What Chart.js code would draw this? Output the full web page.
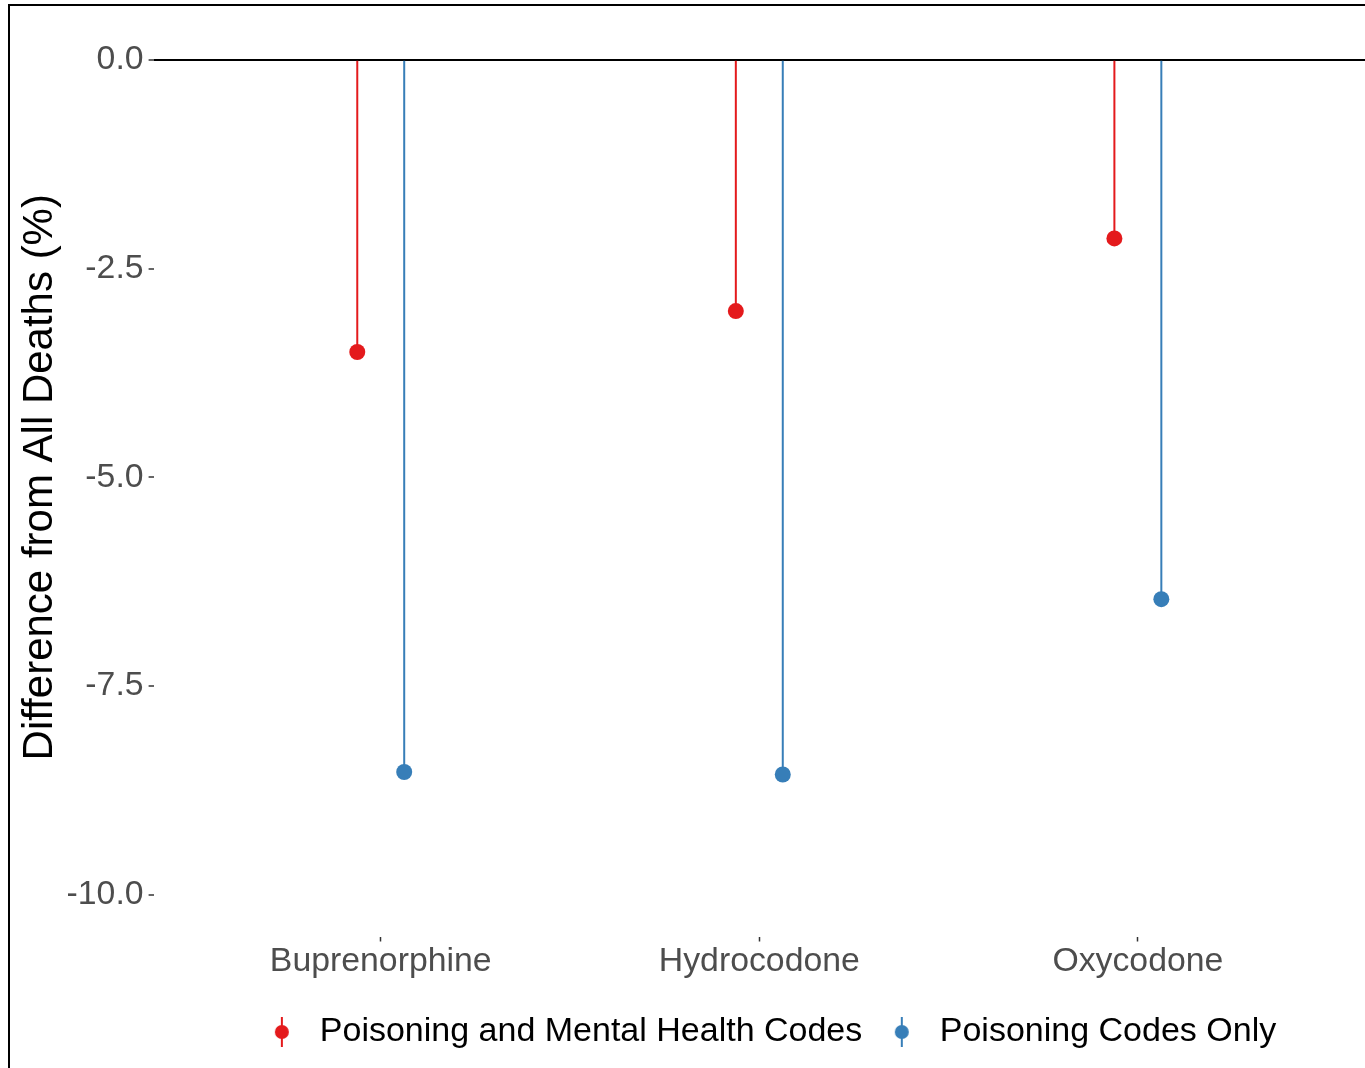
<!DOCTYPE html>
<html>
<head>
<meta charset="utf-8">
<script src="https://cdn.jsdelivr.net/npm/chart.js@4/dist/chart.umd.min.js"></script>
<style>
  html, body { margin: 0; padding: 0; background: #fff; }
  #wrap { position: relative; width: 1365px; height: 1068px; overflow: hidden; }
  #frame { position: absolute; left: 8px; top: 4px; width: 2000px; height: 2000px;
           border-top: 2px solid #000; border-left: 2px solid #000; pointer-events: none; }
  canvas { position: absolute; left: 0; top: 0; }
</style>
</head>
<body>
<div id="wrap">
  <canvas id="c" width="1365" height="1068"></canvas>
  <div id="frame"></div>
</div>
<script>
const categories = ['Buprenorphine', 'Hydrocodone', 'Oxycodone'];
const seriesNames = ['Poisoning and Mental Health Codes', 'Poisoning Codes Only'];
const mentalHealthValues = [-3.50, -3.01, -2.14];
const poisoningOnlyValues = [-8.53, -8.56, -6.46];
const yTickValues = [-10, -7.5, -5, -2.5, 0];
const yTickLabels = ['-10.0', '-7.5', '-5.0', '-2.5', '0.0'];

const RED = '#E41A1C';
const BLUE = '#377EB8';
const DODGE = 0.062;
const FONT = '"Liberation Sans", Arial, sans-serif';

function pts(values, shift) {
  return values.map((v, i) => ({ x: i + 1 + shift, y: v }));
}
function marker(color) {
  const c = document.createElement('canvas');
  c.width = 20; c.height = 30;
  const g = c.getContext('2d');
  g.fillStyle = color;
  g.fillRect(9, 0, 2, 30);
  g.beginPath(); g.arc(10, 15, 7, 0, Math.PI * 2); g.fill();
  return c;
}
const markers = [marker(RED), marker(BLUE)];

const legendShift = {
  id: 'legendShift',
  afterLayout(chart) {
    const dx = 86;
    chart.legend.left += dx;
    chart.legend.right += dx;
  }
};
function noPad(s) {
  s.paddingTop = 0; s.paddingBottom = 0; s.paddingLeft = 0; s.paddingRight = 0;
}

new Chart(document.getElementById('c'), {
  data: {
    datasets: [
      { type: 'scatter', label: seriesNames[0], data: pts(mentalHealthValues, -DODGE),
        backgroundColor: RED, borderColor: RED, pointRadius: 8, borderWidth: 0 },
      { type: 'scatter', label: seriesNames[1], data: pts(poisoningOnlyValues, DODGE),
        backgroundColor: BLUE, borderColor: BLUE, pointRadius: 8, borderWidth: 0 },
      { type: 'bar', label: seriesNames[0] + ' stem', data: pts(mentalHealthValues, -DODGE),
        backgroundColor: RED, grouped: false, maxBarThickness: 2 },
      { type: 'bar', label: seriesNames[1] + ' stem', data: pts(poisoningOnlyValues, DODGE),
        backgroundColor: BLUE, grouped: false, maxBarThickness: 2 }
    ]
  },
  options: {
    responsive: false,
    animation: false,
    devicePixelRatio: 1,
    layout: { autoPadding: false, padding: { top: 18, right: 0, bottom: 9, left: 0 } },
    plugins: {
      tooltip: { enabled: false },
      legend: {
        position: 'bottom',
        align: 'center',
        labels: {
          usePointStyle: true,
          pointStyleWidth: 42,
          padding: 18.5,
          color: '#000',
          font: { family: FONT, size: 34 },
          generateLabels: () => seriesNames.map((n, i) => ({
            text: n, pointStyle: markers[i], fillStyle: i ? BLUE : RED,
            strokeStyle: i ? BLUE : RED, lineWidth: 0, hidden: false, datasetIndex: i
          }))
        }
      }
    },
    scales: {
      x: {
        type: 'linear',
        offset: false,
        min: 0.4,
        max: 3.6,
        afterBuildTicks: (s) => { s.ticks = categories.map((c, i) => ({ value: i + 1 })); },
        afterFit: (s) => { s.height = 60; noPad(s); },
        ticks: {
          callback: (v) => categories[Math.round(v) - 1],
          color: '#4D4D4D',
          font: { family: FONT, size: 33.8 },
          padding: 0,
          maxRotation: 0,
          autoSkip: false
        },
        grid: { offset: false, drawOnChartArea: false, drawTicks: true, tickLength: 5, tickColor: '#333', tickWidth: 1.5 },
        border: { display: false }
      },
      y: {
        min: -10.5,
        max: 0.5,
        afterBuildTicks: (s) => { s.ticks = yTickValues.map(v => ({ value: v })); },
        afterFit: (s) => { s.width = 153.6; noPad(s); },
        ticks: {
          callback: (v) => yTickLabels[yTickValues.indexOf(v)],
          color: '#4D4D4D',
          font: { family: FONT, size: 33.8 },
          padding: 5
        },
        grid: {
          color: (ctx) => (ctx.tick && ctx.tick.value === 0 ? '#000' : 'rgba(0,0,0,0)'),
          lineWidth: 2,
          drawTicks: true,
          tickLength: 5,
          tickColor: '#333',
          tickWidth: 1.5
        },
        border: { display: false },
        title: {
          display: true,
          text: 'Difference from All Deaths (%)',
          color: '#000',
          font: { family: FONT, size: 42, lineHeight: 1.2 },
          padding: { top: 15, bottom: 0 }
        }
      }
    }
  },
  plugins: [legendShift]
});
</script>
</body>
</html>
